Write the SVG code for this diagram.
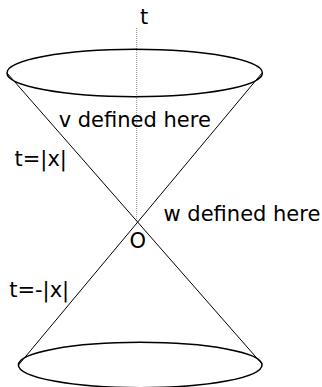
<svg xmlns="http://www.w3.org/2000/svg" width="322" height="387" viewBox="0 0 322 387">
<style>
.lbl{font-family:"DejaVu Sans","Liberation Sans",sans-serif;font-size:21px;fill:#000}
.rim{fill:none;stroke:#000;stroke-width:1.5}
.edge{fill:none;stroke:#000;stroke-width:1}
.axis{fill:none;stroke:#888;stroke-width:1;stroke-dasharray:1 1}
</style>
<rect width="322" height="387" fill="#fff"/>
<g id="connectors">
<line class="axis" x1="136.7" y1="28" x2="136.7" y2="222"/>
<line class="edge" x1="7" y1="73" x2="262" y2="364"/>
<line class="edge" x1="262" y1="73" x2="18.5" y2="365"/>
</g>
<g id="top-cone"><ellipse class="rim" cx="134.7" cy="73" rx="127.7" ry="23.7"/></g>
<g id="bottom-cone"><ellipse class="rim" cx="140.2" cy="365" rx="121.8" ry="22.7"/></g>
<g id="label-t"><text class="lbl" x="139.9" y="24">t</text></g>
<g id="label-v"><text class="lbl" x="58.7" y="127.3">v defined here</text></g>
<g id="label-w"><text class="lbl" x="163.5" y="221">w defined here</text></g>
<g id="label-O"><text class="lbl" x="129.5" y="248">O</text></g>
<g id="label-future"><text class="lbl" x="14.5" y="166">t=|x|</text></g>
<g id="label-past"><text class="lbl" x="9.2" y="297">t=-|x|</text></g>
</svg>
